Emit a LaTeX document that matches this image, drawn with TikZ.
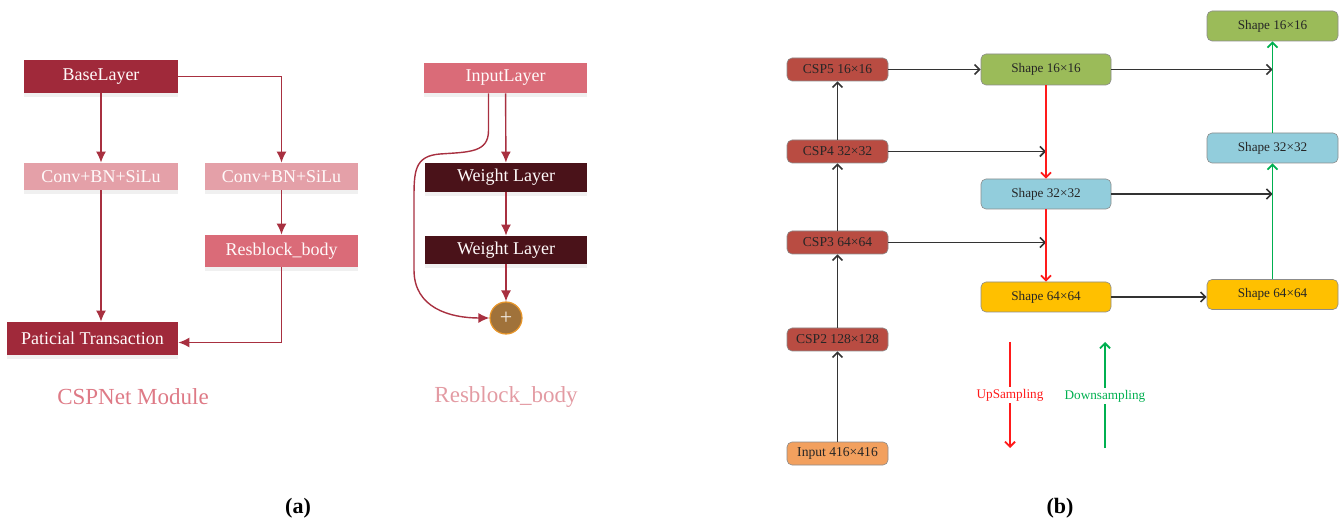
\documentclass[tikz,border=0pt]{standalone}
\usepackage{fontspec}
\setmainfont{Liberation Serif}
\usetikzlibrary{arrows.meta,shadows}

\definecolor{baseRed}{HTML}{A0293A}
\definecolor{convPink}{HTML}{E4A0A8}
\definecolor{resPink}{HTML}{DA6B78}
\definecolor{weightRed}{HTML}{4A1219}
\definecolor{plusFill}{HTML}{A0723A}
\definecolor{plusLine}{HTML}{E8962A}
\definecolor{lineRed}{HTML}{A83040}
\definecolor{cspRed}{HTML}{B94C42}
\definecolor{inOrange}{HTML}{F2A05E}
\definecolor{shGreen}{HTML}{9BBB59}
\definecolor{shBlue}{HTML}{92CDDC}
\definecolor{shYellow}{HTML}{FFC000}
\definecolor{upRed}{HTML}{FF1A1A}
\definecolor{downGreen}{HTML}{00B050}

\begin{document}
\begin{tikzpicture}[x=0.5pt, y=-0.5pt,
  abox/.style={rectangle, inner sep=0pt, text=white!92!pink,
    font=\fontsize{9}{10}\selectfont,
    drop shadow={shadow xshift=0pt, shadow yshift=-2pt, opacity=0.12}},
  aarr/.style={draw=lineRed, line width=0.7pt, -{Latex[length=5.5pt,width=5pt]}},
  bbox/.style={rectangle, rounded corners=2.5pt, draw=black!45, line width=0.3pt,
    inner sep=0pt, text=black!85},
  barr/.style={draw=black!80, line width=0.8pt, -{Straight Barb[length=2.5pt,width=5pt]}},
  captext/.style={font=\fontsize{11.5}{13}\selectfont}]
  \useasboundingbox (0,0) rectangle (1343,523);

  % (a) CSPNet module
  \node[abox, fill=baseRed, minimum width=77pt, minimum height=16.5pt] (base) at (101,76.5) {BaseLayer};
  \node[abox, fill=convPink, minimum width=77pt, minimum height=13.5pt] (convl) at (101,176.5) {Conv+BN+SiLu};
  \node[abox, fill=convPink, minimum width=76.5pt, minimum height=13.5pt] (convr) at (281.5,176.5) {Conv+BN+SiLu};
  \node[abox, fill=resPink, minimum width=76.5pt, minimum height=16pt] (resb) at (281.5,251) {Resblock\_body};
  \node[abox, fill=baseRed, minimum width=85.5pt, minimum height=16.5pt] (trans) at (92.5,338.5) {Paticial Transaction};
  \draw[aarr] (base) -- (convl);
  \draw[aarr] (base.east) -| (convr.north);
  \draw[aarr] (convl.south) -- (convl.south |- trans.north);
  \draw[aarr] (convr) -- (resb);
  \draw[aarr] (resb.south) |- ([yshift=-2pt]trans.east);
  \node[captext, text=resPink!90!white] (cspcap) at (133,397) {CSPNet Module};

  % (a) Resblock body
  \node[abox, fill=resPink, minimum width=81.5pt, minimum height=15pt] (inl) at (505.5,78) {InputLayer};
  \node[abox, fill=weightRed, minimum width=81pt, minimum height=14.5pt] (wl1) at (506,177.5) {Weight Layer};
  \node[abox, fill=weightRed, minimum width=81pt, minimum height=14pt] (wl2) at (506,250) {Weight Layer};
  \node[circle, fill=plusFill, draw=plusLine, line width=0.6pt, minimum size=16pt, inner sep=0pt,
    text=white!85!plusFill, font=\fontsize{11}{11}\selectfont] (plus) at (506,318) {+};
  \draw[aarr] (inl) -- (wl1);
  \draw[aarr] (wl1) -- (wl2);
  \draw[aarr] (wl2) -- (plus);
  \draw[aarr] ([xshift=-8.5pt]inl.south) -- ++(0,37)
    .. controls ++(0,22) and (470,152) .. (440,154)
    .. controls (414,156) and (414,172) .. (414,200) -- (414,270)
    .. controls (414,308) and (450,318) .. (plus.west);
  \node[captext, text=convPink!90!resPink] (rescap) at (506,397) {Resblock\_body};

  \node[font=\fontsize{11}{12}\selectfont\bfseries] (laba) at (298,508) {(a)};

  % (b) feature pyramid
  \begin{scope}[every node/.append style={font=\fontsize{6.8}{7}\selectfont}]
  \node[bbox, fill=cspRed, minimum width=50.5pt, minimum height=11.5pt] (csp5) at (837.5,69.5) {CSP5 16×16};
  \node[bbox, fill=cspRed, minimum width=50.5pt, minimum height=11.5pt] (csp4) at (837.5,151.5) {CSP4 32×32};
  \node[bbox, fill=cspRed, minimum width=50.5pt, minimum height=11.5pt] (csp3) at (837.5,242.5) {CSP3 64×64};
  \node[bbox, fill=cspRed, minimum width=50.5pt, minimum height=11.5pt] (csp2) at (837.5,339.5) {CSP2 128×128};
  \node[bbox, fill=inOrange, minimum width=50.5pt, minimum height=11.5pt] (inp) at (837.5,453.5) {Input 416×416};
  \end{scope}
  \begin{scope}[every node/.append style={font=\fontsize{6.6}{7}\selectfont}]
  \node[bbox, fill=shGreen, minimum width=65pt, minimum height=15.5pt] (s16a) at (1046,69.5) {Shape 16×16};
  \node[bbox, fill=shBlue, minimum width=65pt, minimum height=15pt] (s32a) at (1046,194) {Shape 32×32};
  \node[bbox, fill=shYellow, minimum width=65pt, minimum height=15pt] (s64a) at (1046,297) {Shape 64×64};
  \node[bbox, fill=shGreen, minimum width=65.5pt, minimum height=15pt] (s16b) at (1272.5,26) {Shape 16×16};
  \node[bbox, fill=shBlue, minimum width=65.5pt, minimum height=15pt] (s32b) at (1272.5,148) {Shape 32×32};
  \node[bbox, fill=shYellow, minimum width=65.5pt, minimum height=15pt] (s64b) at (1272.5,294.5) {Shape 64×64};
  \end{scope}

  \draw[barr] (inp) -- (csp2);
  \draw[barr] (csp2) -- (csp3);
  \draw[barr] (csp3) -- (csp4);
  \draw[barr] (csp4) -- (csp5);
  \draw[barr] (csp5) -- (s16a);
  \draw[barr] (csp4.east) -- (csp4.east -| s16a.south);
  \draw[barr] (csp3.east) -- (csp3.east -| s16a.south);
  \draw[barr] (s16a.east) -- (s16a.east -| s16b.south);
  \draw[barr] (s32a.east) -- (s32a.east -| s16b.south);
  \draw[barr] (s64a.east) -- (s64a.east -| s64b.west);
  \draw[barr, draw=upRed, line width=0.9pt] (s16a) -- (s32a);
  \draw[barr, draw=upRed, line width=0.9pt] (s32a) -- (s64a);
  \draw[barr, draw=downGreen, line width=0.9pt] (s64b) -- (s32b);
  \draw[barr, draw=downGreen, line width=0.9pt] (s32b) -- (s16b);

  % legend
  \coordinate (upt) at (1010,342);
  \coordinate (upb) at (1010,448);
  \coordinate (dnt) at (1105,342);
  \coordinate (dnb) at (1105,448);
  \draw[barr, draw=upRed, line width=0.9pt] (upt) -- (upb);
  \draw[barr, draw=downGreen, line width=0.9pt] (dnb) -- (dnt);
  \node[fill=white, inner sep=1pt, text=upRed, font=\fontsize{6.6}{7}\selectfont] (uplab) at (1010,395) {UpSampling};
  \node[fill=white, inner sep=1pt, text=downGreen, font=\fontsize{6.6}{7}\selectfont] (dnlab) at (1105,396) {Downsampling};

  \node[font=\fontsize{11}{12}\selectfont\bfseries] (labb) at (1060,508) {(b)};
\end{tikzpicture}
\end{document}
